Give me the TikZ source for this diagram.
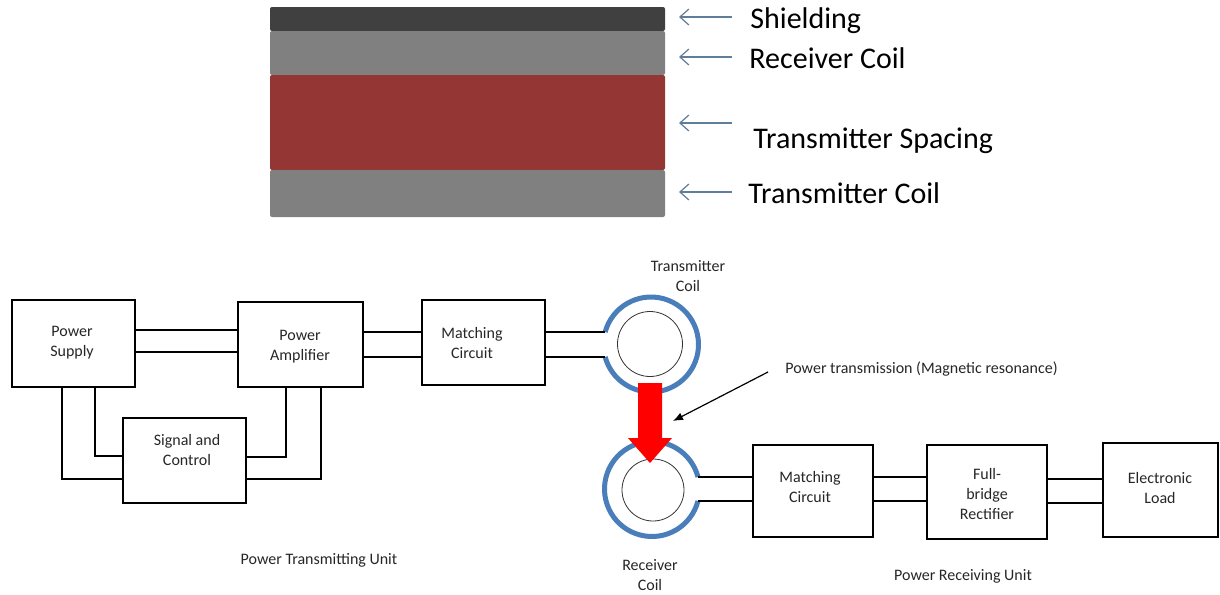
\documentclass[tikz,border=0pt]{standalone}
\usepackage{fontspec}
\setmainfont{Carlito}
\usetikzlibrary{arrows.meta,calc}
\definecolor{ringblue}{RGB}{74,126,187}
\definecolor{shieldc}{RGB}{64,64,64}
\definecolor{coilgray}{RGB}{128,128,128}
\definecolor{spacered}{RGB}{148,54,52}
\definecolor{arrowblue}{RGB}{96,125,155}
\begin{document}
\begin{tikzpicture}[x=0.5pt,y=-0.5pt,
  box/.style={draw, line width=0.9pt, inner sep=0pt, outer sep=0pt},
  lbl/.style={font=\fontsize{8}{10}\selectfont, text=black!85, align=center, inner sep=0pt},
  big/.style={font=\fontsize{15}{18}\selectfont, inner sep=0pt, anchor=base west},
  wire/.style={line width=0.9pt},
  ring/.style={draw=ringblue, line width=2.5pt},
  inner/.style={circle, draw=black!80, line width=0.4pt, inner sep=0pt, outer sep=0pt},
  layerarrow/.style={draw=arrowblue, line width=0.6pt, -{Straight Barb[length=4.5pt,width=8pt]}},
]
\useasboundingbox (0,0) rectangle (1220,594);

% ---- layered stack ----
\fill[shieldc, rounded corners=1pt] (270,7) rectangle (665,31);
\fill[coilgray, rounded corners=1pt] (270,31) rectangle (665,75);
\fill[spacered, rounded corners=1pt] (270,75) rectangle (665,170);
\fill[coilgray, rounded corners=1pt] (270,170) rectangle (665,217);

\node[big] (shieldT) at (750,28) {Shielding};
\node[big] (rcoilT) at (749,68) {Receiver Coil};
\node[big] (spaceT) at (753,148) {Transmitter Spacing};
\node[big] (tcoilT) at (748,203) {Transmitter Coil};

\coordinate (a1s) at (732,17);  \coordinate (a1e) at (679,17);
\coordinate (a2s) at (732,57);  \coordinate (a2e) at (679,57);
\coordinate (a3s) at (732,123); \coordinate (a3e) at (679,123);
\coordinate (a4s) at (732,192); \coordinate (a4e) at (679,192);
\draw[layerarrow] (a1s) -- (a1e);
\draw[layerarrow] (a2s) -- (a2e);
\draw[layerarrow] (a3s) -- (a3e);
\draw[layerarrow] (a4s) -- (a4e);

% ---- transmitting side boxes ----
\node[box, minimum width=61.5pt, minimum height=43.5pt] (ps) at (73.5,343.5) {};
\node[box, minimum width=62.5pt, minimum height=42.5pt] (pa) at (300.5,344.5) {};
\node[box, minimum width=61.5pt, minimum height=42.5pt] (sc) at (184.5,460.5) {};
\node[box, minimum width=61.5pt, minimum height=42.5pt] (txmc) at (483.5,342.5) {};

\node[lbl] (psT) at (72,343) {Power\\Supply};
\node[lbl] (paT) at (300,347) {Power\\Amplifier};
\node[lbl] (scT) at (187,450) {Signal and\\Control};
\node[lbl] (txmcT) at (472,343) {Matching\\Circuit};

\draw[wire] (ps.east |- 0,330) -- (pa.west |- 0,330);
\draw[wire] (ps.east |- 0,352) -- (pa.west |- 0,352);
\draw[wire] (pa.east |- 0,332) -- (txmc.west |- 0,332);
\draw[wire] (pa.east |- 0,357) -- (txmc.west |- 0,357);
\draw[wire] (ps.south -| 62,0) |- (sc.west |- 0,479);
\draw[wire] (ps.south -| 95,0) |- (sc.west |- 0,456);
\draw[wire] (pa.south -| 286,0) |- (sc.east |- 0,457);
\draw[wire] (pa.south -| 321,0) |- (sc.east |- 0,479);

% ---- transmitter coil ----
\coordinate (txc) at (651,344.5);
\node[inner, minimum size=32.5pt] (txin) at (650,344) {};
\coordinate (txa) at ($(txc)+(195.1:47.5)$);
\coordinate (txb) at ($(txc)+(164.9:47.5)$);
\draw[ring] (txa) arc[start angle=195.1, end angle=524.9, radius=47.5];
\draw[wire] (txmc.east |- txa) -- (txa);
\draw[wire] (txmc.east |- txb) -- (txb);
\node[lbl] (txcT) at (688,276) {Transmitter\\Coil};

% ---- receiver coil ----
\coordinate (rxc) at (652,489);
\node[inner, minimum size=31pt] (rxin) at (653,490) {};
\coordinate (rxa) at ($(rxc)+(14.6:47.5)$);
\coordinate (rxb) at ($(rxc)+(345.4:47.5)$);
\draw[ring] (rxa) arc[start angle=14.6, end angle=345.4, radius=47.5];
\node[lbl] (rxcT) at (650,575) {Receiver\\Coil};

% ---- receiving side boxes ----
\node[box, minimum width=60pt, minimum height=46pt] (rxmc) at (813,491) {};
\node[box, minimum width=60pt, minimum height=47pt] (fb) at (987,492) {};
\node[box, minimum width=57.5pt, minimum height=47pt] (el) at (1160.5,490) {};
\node[lbl] (rxmcT) at (810,487) {Matching\\Circuit};
\node[lbl] (fbT) at (987,494) {Full-\\bridge\\Rectifier};
\node[lbl] (elT) at (1160,488) {Electronic\\Load};

\draw[wire] (rxb) -- (rxmc.west |- rxb);
\draw[wire] (rxa) -- (rxmc.west |- rxa);
\draw[wire] (rxmc.east |- 0,477) -- (fb.west |- 0,477);
\draw[wire] (rxmc.east |- 0,501) -- (fb.west |- 0,501);
\draw[wire] (fb.east |- 0,479) -- (el.west |- 0,479);
\draw[wire] (fb.east |- 0,503) -- (el.west |- 0,503);

% ---- power transfer arrow ----
\fill[red] (638,383) -- (662,383) -- (662,438) -- (672,438) -- (650,463)
  -- (628,438) -- (638,438) -- cycle;

\node[lbl, anchor=west] (ptT) at (785,369) {Power transmission (Magnetic resonance)};
\coordinate (pts) at (768,372);
\coordinate (pte) at (673,421);
\draw[line width=0.6pt, -{Latex[length=5pt,width=4pt]}] (pts) -- (pte);

\node[lbl] (ptuT) at (319,560) {Power Transmitting Unit};
\node[lbl] (pruT) at (963,576) {Power Receiving Unit};
\end{tikzpicture}
\end{document}
